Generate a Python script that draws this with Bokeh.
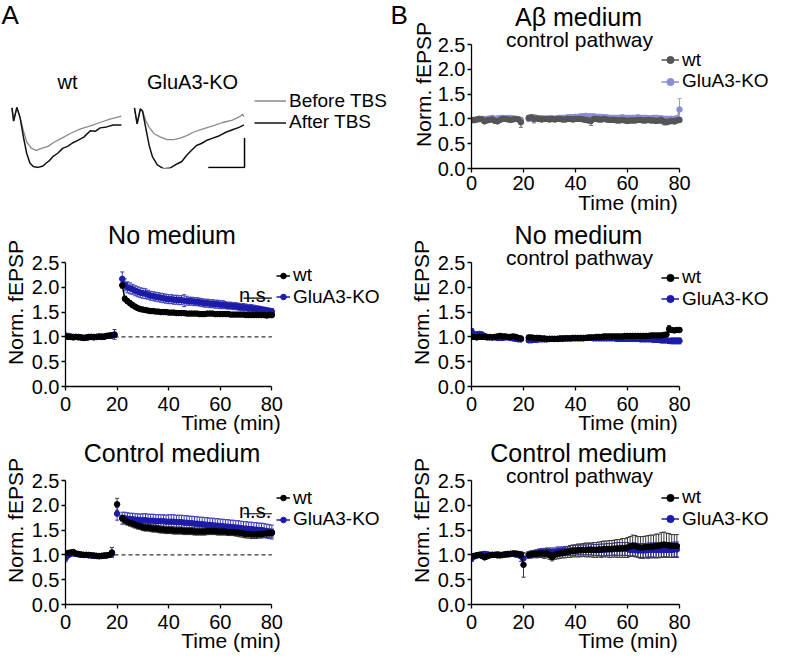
import math
from bokeh.plotting import figure
from bokeh.models import (Range1d, FixedTicker, NumeralTickFormatter, Label, Legend, LegendItem,
                          Whisker, TeeHead, ColumnDataSource)
from bokeh.layouts import column, row
from bokeh.embed import file_html
from bokeh.resources import INLINE

FONT = "Liberation Sans"

# ---------------- Panel A: example fEPSP traces (time in arbitrary ms units, mV) ----------------
WT_AFTER_T = [0, 0.17, 0.5, 0.83, 1.17, 1.5, 1.83, 2.17, 2.67, 3.17, 3.5, 3.83, 4.17, 4.67, 5.17,
              5.67, 6.17, 6.67, 7.33, 8.0, 8.5, 9.0, 9.67, 10.33, 11.17]
WT_AFTER_V = [0, -0.27, 0.01, -0.2, -0.6, -0.93, -1.13, -1.2, -1.22, -1.19, -1.13, -1.08, -1.0, -0.93, -0.83,
              -0.79, -0.72, -0.67, -0.6, -0.47, -0.48, -0.41, -0.39, -0.35, -0.35]
WT_BEFORE_T = [0, 0.17, 0.5, 0.83, 1.17, 1.5, 2.0, 2.5, 3.0, 3.67, 4.33, 5.0, 6.0, 7.0, 8.0, 9.0, 10.0, 11.17]
WT_BEFORE_V = [0, -0.27, 0.01, -0.2, -0.47, -0.7, -0.83, -0.87, -0.83, -0.79, -0.7, -0.63, -0.52, -0.43,
               -0.37, -0.3, -0.23, -0.17]
KO_AFTER_T = [0, 0.27, 0.6, 0.83, 1.17, 1.5, 1.83, 2.33, 3.0, 3.67, 4.33, 4.83, 5.33, 5.83, 6.33, 6.83,
              7.33, 8.0, 8.67, 9.33, 10.0, 10.67, 11.17]
KO_AFTER_V = [0, -0.33, -0.02, -0.07, -0.43, -0.77, -1.0, -1.17, -1.25, -1.23, -1.15, -1.1, -0.97, -0.87,
              -0.77, -0.73, -0.67, -0.62, -0.57, -0.5, -0.45, -0.4, -0.35]
KO_BEFORE_T = [0, 0.27, 0.6, 0.83, 1.17, 1.5, 2.0, 2.67, 3.33, 4.0, 4.67, 5.33, 6.0, 7.0, 8.0, 9.0, 10.0,
               10.83, 11.0, 11.17]
KO_BEFORE_V = [0, -0.33, -0.02, -0.07, -0.27, -0.4, -0.53, -0.6, -0.65, -0.65, -0.62, -0.57, -0.5, -0.43,
               -0.37, -0.3, -0.25, -0.17, -0.13, -0.18]
SCALE_MS = 3.7
SCALE_MV = 0.6

# ---------------- Time-course data (time in min, normalized fEPSP) ----------------
LM_T = list(range(0, 20)) + list(range(22, 81))
LM_WT = [1.01, 1.00, 1.00, 0.99, 1.00, 1.00, 0.99, 0.98, 0.99, 1.00, 1.00, 0.99, 1.00, 1.01, 1.00, 1.00, 1.02, 1.03, 1.03, 1.04,
         2.04, 1.77, 1.72, 1.68, 1.64, 1.61, 1.58, 1.56, 1.55, 1.54,
         1.53, 1.52, 1.52, 1.51, 1.51, 1.50, 1.50, 1.50, 1.49, 1.49,
         1.49, 1.48, 1.48, 1.48, 1.48, 1.47, 1.47, 1.47, 1.47, 1.47,
         1.46, 1.46, 1.46, 1.47, 1.47, 1.47, 1.46, 1.46, 1.46, 1.46,
         1.46, 1.46, 1.45, 1.45, 1.45, 1.45, 1.45, 1.45, 1.44, 1.44,
         1.44, 1.44, 1.44, 1.44, 1.44, 1.44, 1.43, 1.44, 1.44]
LM_WT_ERR = [0.02, 0.02, 0.02, 0.02, 0.02, 0.02, 0.02, 0.02, 0.02, 0.02, 0.02, 0.02, 0.02, 0.02, 0.02, 0.03, 0.03, 0.03, 0.04, 0.05,
             0.06, 0.05, 0.05, 0.05, 0.05, 0.04, 0.04, 0.04, 0.04, 0.04,
             0.04, 0.04, 0.04, 0.04, 0.04, 0.04, 0.04, 0.04, 0.04, 0.04,
             0.04, 0.04, 0.04, 0.04, 0.04, 0.04, 0.04, 0.04, 0.04, 0.04,
             0.04, 0.04, 0.04, 0.04, 0.04, 0.04, 0.04, 0.04, 0.04, 0.04,
             0.04, 0.04, 0.04, 0.04, 0.04, 0.04, 0.04, 0.04, 0.04, 0.04,
             0.04, 0.04, 0.04, 0.04, 0.04, 0.04, 0.04, 0.04, 0.05]
LM_KO = [1.03, 1.02, 1.01, 1.00, 1.00, 0.99, 0.99, 0.98, 0.98, 0.99, 1.00, 1.00, 1.00, 1.00, 1.01, 1.01, 1.02, 1.02, 1.03, 1.05,
         2.17, 2.05, 2.00, 1.98, 1.96, 1.93, 1.91, 1.89, 1.88, 1.87,
         1.85, 1.83, 1.82, 1.81, 1.80, 1.79, 1.78, 1.77, 1.76, 1.76,
         1.75, 1.75, 1.74, 1.74, 1.73, 1.73, 1.72, 1.72, 1.71, 1.71,
         1.70, 1.69, 1.68, 1.68, 1.67, 1.67, 1.66, 1.66, 1.65, 1.65,
         1.64, 1.63, 1.63, 1.62, 1.62, 1.61, 1.60, 1.60, 1.59, 1.58,
         1.58, 1.57, 1.56, 1.56, 1.55, 1.54, 1.53, 1.52, 1.51]
LM_KO_ERR = [0.03, 0.03, 0.03, 0.03, 0.03, 0.03, 0.03, 0.03, 0.03, 0.03, 0.03, 0.03, 0.03, 0.03, 0.03, 0.03, 0.03, 0.04, 0.05, 0.10,
             0.14, 0.12, 0.11, 0.11, 0.10, 0.10, 0.10, 0.10, 0.10, 0.10,
             0.09, 0.09, 0.09, 0.09, 0.09, 0.09, 0.09, 0.09, 0.09, 0.09,
             0.09, 0.09, 0.09, 0.09, 0.12, 0.09, 0.08, 0.08, 0.08, 0.08,
             0.08, 0.08, 0.08, 0.08, 0.08, 0.08, 0.08, 0.08, 0.08, 0.08,
             0.07, 0.07, 0.07, 0.07, 0.07, 0.07, 0.07, 0.07, 0.07, 0.07,
             0.07, 0.07, 0.07, 0.06, 0.06, 0.06, 0.06, 0.06, 0.06]

LB_T = list(range(0, 19)) + [20] + list(range(22, 81))
LB_WT = [1.03, 1.04, 1.05, 1.06, 1.03, 1.02, 1.01, 1.00, 1.00, 1.00, 0.99, 0.99, 0.98, 0.98, 0.98, 0.99, 0.99, 1.00, 1.05,
         2.02,
         1.74, 1.70, 1.67, 1.65, 1.63, 1.61, 1.59, 1.58, 1.56, 1.55,
         1.55, 1.54, 1.53, 1.53, 1.52, 1.51, 1.51, 1.50, 1.50, 1.50,
         1.49, 1.49, 1.49, 1.49, 1.48, 1.48, 1.48, 1.48, 1.47, 1.47,
         1.47, 1.47, 1.47, 1.48, 1.48, 1.48, 1.48, 1.47, 1.47, 1.47,
         1.47, 1.46, 1.46, 1.46, 1.45, 1.45, 1.44, 1.43, 1.42, 1.42,
         1.41, 1.41, 1.41, 1.42, 1.42, 1.43, 1.43, 1.44, 1.44]
LB_WT_ERR = [0.03, 0.03, 0.03, 0.03, 0.03, 0.03, 0.03, 0.03, 0.03, 0.03, 0.03, 0.03, 0.03, 0.03, 0.03, 0.03, 0.03, 0.03, 0.10,
             0.12,
             0.06, 0.06, 0.07, 0.07, 0.07, 0.07, 0.07, 0.07, 0.07, 0.07,
             0.07, 0.07, 0.07, 0.07, 0.07, 0.07, 0.07, 0.07, 0.07, 0.07,
             0.07, 0.07, 0.07, 0.07, 0.07, 0.07, 0.07, 0.07, 0.07, 0.07,
             0.07, 0.07, 0.07, 0.07, 0.07, 0.07, 0.07, 0.07, 0.07, 0.07,
             0.07, 0.07, 0.07, 0.07, 0.07, 0.08, 0.08, 0.08, 0.08, 0.08,
             0.08, 0.08, 0.08, 0.08, 0.08, 0.08, 0.08, 0.08, 0.08]
LB_KO = [0.93, 0.99, 1.02, 1.03, 1.02, 1.01, 1.00, 1.00, 1.00, 0.99, 0.99, 0.98, 0.98, 0.97, 0.98, 0.98, 0.99, 1.00, 1.02,
         1.83,
         1.74, 1.74, 1.73, 1.72, 1.72, 1.71, 1.71, 1.70, 1.70, 1.70,
         1.69, 1.69, 1.69, 1.68, 1.68, 1.68, 1.68, 1.67, 1.67, 1.67,
         1.67, 1.66, 1.66, 1.66, 1.65, 1.65, 1.64, 1.64, 1.63, 1.63,
         1.62, 1.62, 1.61, 1.61, 1.60, 1.60, 1.59, 1.59, 1.58, 1.58,
         1.57, 1.57, 1.56, 1.56, 1.55, 1.55, 1.54, 1.53, 1.53, 1.52,
         1.52, 1.51, 1.51, 1.50, 1.50, 1.49, 1.48, 1.47, 1.46]
LB_KO_ERR = [0.07, 0.03, 0.03, 0.03, 0.03, 0.03, 0.03, 0.03, 0.03, 0.03, 0.03, 0.03, 0.03, 0.03, 0.03, 0.03, 0.03, 0.03, 0.05,
             0.13,
             0.12, 0.12, 0.12, 0.12, 0.12, 0.12, 0.12, 0.12, 0.13, 0.13,
             0.13, 0.13, 0.13, 0.13, 0.13, 0.13, 0.13, 0.13, 0.14, 0.14,
             0.14, 0.14, 0.14, 0.14, 0.14, 0.14, 0.14, 0.14, 0.14, 0.14,
             0.14, 0.14, 0.14, 0.14, 0.14, 0.14, 0.14, 0.14, 0.14, 0.14,
             0.14, 0.14, 0.14, 0.14, 0.14, 0.14, 0.14, 0.14, 0.14, 0.14,
             0.14, 0.14, 0.14, 0.14, 0.14, 0.14, 0.14, 0.14, 0.14]

TR_T = list(range(0, 20)) + list(range(22, 81))
TR_WT = [0.98, 0.98, 0.99, 1.00, 0.99, 0.95, 0.97, 0.98, 0.99, 0.96, 0.95, 0.98, 1.00, 1.00, 0.99, 0.98, 0.99, 1.00, 0.99, 0.93,
         1.02, 1.03, 1.00, 1.01, 1.00, 0.99, 1.00, 1.00, 0.99, 1.00,
         0.99, 1.00, 1.00, 0.99, 0.99, 1.00, 1.00, 0.99, 1.00, 1.00,
         1.00, 0.99, 0.98, 0.97, 0.96, 1.00, 1.00, 0.99, 0.99, 1.00,
         0.99, 0.98, 0.98, 0.98, 0.97, 0.97, 0.98, 0.97, 0.96, 0.97,
         0.97, 0.97, 0.98, 0.98, 0.97, 0.97, 0.98, 0.97, 0.97, 0.96,
         0.97, 0.98, 0.95, 0.94, 0.95, 0.96, 0.95, 0.97, 0.98]
TR_WT_ERR = [0.04, 0.04, 0.04, 0.04, 0.04, 0.04, 0.04, 0.04, 0.04, 0.04, 0.04, 0.04, 0.04, 0.04, 0.04, 0.04, 0.04, 0.04, 0.04, 0.10,
             0.05, 0.05, 0.08, 0.05, 0.05, 0.05, 0.05, 0.05, 0.05, 0.05,
             0.05, 0.05, 0.05, 0.05, 0.05, 0.05, 0.05, 0.05, 0.05, 0.05,
             0.05, 0.05, 0.05, 0.05, 0.09, 0.05, 0.05, 0.05, 0.05, 0.05,
             0.05, 0.05, 0.05, 0.05, 0.05, 0.05, 0.05, 0.05, 0.05, 0.05,
             0.05, 0.05, 0.05, 0.05, 0.05, 0.05, 0.05, 0.05, 0.05, 0.05,
             0.05, 0.07, 0.07, 0.06, 0.05, 0.05, 0.05, 0.05, 0.05]
TR_KO = [0.97, 0.97, 0.98, 1.00, 1.00, 1.00, 1.00, 1.01, 1.02, 1.00, 1.01, 1.02, 1.02, 1.01, 1.02, 1.02, 1.01, 1.00, 0.99, 0.98,
         1.00, 1.01, 1.02, 1.02, 1.01, 1.01, 1.00, 1.00, 1.01, 1.01,
         1.00, 1.01, 1.02, 1.02, 1.02, 1.03, 1.03, 1.03, 1.04, 1.04,
         1.05, 1.05, 1.06, 1.05, 1.05, 1.05, 1.04, 1.04, 1.04, 1.03,
         1.03, 1.02, 1.02, 1.02, 1.02, 1.02, 1.03, 1.02, 1.02, 1.02,
         1.02, 1.02, 1.03, 1.02, 1.02, 1.02, 1.01, 1.01, 1.02, 1.02,
         1.01, 1.01, 1.00, 1.00, 1.00, 1.00, 1.00, 1.01, 1.19]
TR_KO_ERR = [0.04, 0.04, 0.04, 0.04, 0.04, 0.04, 0.04, 0.04, 0.04, 0.04, 0.04, 0.04, 0.04, 0.04, 0.04, 0.04, 0.04, 0.04, 0.04, 0.04,
             0.05, 0.05, 0.05, 0.05, 0.05, 0.05, 0.05, 0.05, 0.05, 0.05,
             0.05, 0.05, 0.05, 0.05, 0.05, 0.05, 0.05, 0.05, 0.05, 0.05,
             0.05, 0.05, 0.05, 0.05, 0.05, 0.05, 0.05, 0.05, 0.05, 0.05,
             0.05, 0.05, 0.05, 0.05, 0.05, 0.05, 0.05, 0.05, 0.05, 0.05,
             0.05, 0.05, 0.05, 0.05, 0.05, 0.05, 0.05, 0.05, 0.05, 0.05,
             0.05, 0.05, 0.05, 0.05, 0.05, 0.05, 0.05, 0.05, 0.22]

RM_T = list(range(0, 20)) + list(range(22, 81))
RM_WT = [1.00, 1.00, 0.99, 1.00, 1.00, 1.00, 0.99, 0.99, 0.99, 1.00, 1.01, 1.02, 1.01, 1.01, 1.00, 1.00, 1.01, 1.00, 0.98, 0.97,
         0.99, 0.99, 0.98, 0.98, 0.98, 0.97, 0.97, 0.96, 0.96, 0.96,
         0.96, 0.96, 0.97, 0.97, 0.97, 0.97, 0.97, 0.98, 0.98, 0.98,
         0.98, 0.98, 0.98, 0.99, 0.99, 0.99, 1.00, 1.00, 1.00, 1.01,
         1.01, 1.01, 1.01, 1.01, 1.01, 1.01, 1.01, 1.02, 1.02, 1.02,
         1.02, 1.02, 1.02, 1.02, 1.02, 1.02, 1.02, 1.03, 1.03, 1.03,
         1.03, 1.03, 1.04, 1.05, 1.16, 1.14, 1.13, 1.14, 1.14]
RM_WT_ERR = [0.04, 0.04, 0.04, 0.04, 0.04, 0.04, 0.04, 0.04, 0.04, 0.04, 0.04, 0.04, 0.04, 0.04, 0.04, 0.04, 0.04, 0.04, 0.04, 0.04,
             0.04, 0.04, 0.04, 0.04, 0.04, 0.04, 0.04, 0.04, 0.04, 0.04,
             0.04, 0.04, 0.04, 0.04, 0.04, 0.04, 0.04, 0.04, 0.04, 0.04,
             0.04, 0.04, 0.04, 0.04, 0.04, 0.04, 0.04, 0.04, 0.04, 0.04,
             0.04, 0.04, 0.04, 0.04, 0.04, 0.04, 0.04, 0.04, 0.04, 0.04,
             0.04, 0.04, 0.04, 0.04, 0.04, 0.04, 0.04, 0.04, 0.04, 0.04,
             0.04, 0.04, 0.04, 0.04, 0.07, 0.04, 0.04, 0.04, 0.04]
RM_KO = [1.12, 1.05, 1.05, 1.06, 1.05, 1.02, 1.00, 1.00, 0.99, 0.99, 0.98, 0.98, 0.98, 0.99, 0.99, 0.98, 0.97, 0.96, 0.95, 0.95,
         0.93, 0.93, 0.94, 0.94, 0.95, 0.95, 0.95, 0.95, 0.96, 0.96,
         0.96, 0.96, 0.96, 0.96, 0.97, 0.97, 0.97, 0.97, 0.97, 0.97,
         0.97, 0.97, 0.98, 0.98, 0.98, 0.97, 0.97, 0.97, 0.97, 0.97,
         0.97, 0.97, 0.97, 0.97, 0.96, 0.96, 0.96, 0.96, 0.96, 0.96,
         0.96, 0.96, 0.96, 0.95, 0.95, 0.95, 0.95, 0.95, 0.94, 0.94,
         0.94, 0.93, 0.93, 0.93, 0.92, 0.92, 0.92, 0.92, 0.92]
RM_KO_ERR = [0.05, 0.05, 0.04, 0.04, 0.04, 0.04, 0.04, 0.04, 0.04, 0.04, 0.04, 0.04, 0.04, 0.04, 0.04, 0.04, 0.04, 0.04, 0.04, 0.04,
             0.04, 0.04, 0.04, 0.04, 0.04, 0.04, 0.04, 0.04, 0.04, 0.04,
             0.04, 0.04, 0.04, 0.04, 0.04, 0.04, 0.04, 0.04, 0.04, 0.04,
             0.04, 0.04, 0.04, 0.04, 0.04, 0.04, 0.04, 0.04, 0.04, 0.04,
             0.04, 0.04, 0.04, 0.04, 0.04, 0.04, 0.04, 0.04, 0.04, 0.04,
             0.04, 0.04, 0.04, 0.04, 0.04, 0.04, 0.04, 0.04, 0.04, 0.05,
             0.05, 0.05, 0.05, 0.05, 0.05, 0.06, 0.06, 0.06, 0.06]

RB_T = list(range(0, 21)) + list(range(22, 80))
RB_WT = [0.97, 0.98, 0.99, 1.00, 0.98, 0.95, 0.97, 0.99, 1.00, 1.00, 0.99, 0.99, 1.00, 1.01, 1.02, 1.02, 1.03, 1.03, 1.02, 1.00, 0.80,
         1.00, 1.01, 1.02, 1.02, 1.03, 1.03, 1.02, 1.03, 1.00, 0.96,
         1.00, 1.02, 1.03, 1.04, 1.05, 1.06, 1.07, 1.08, 1.08, 1.09,
         1.09, 1.10, 1.10, 1.10, 1.10, 1.10, 1.10, 1.11, 1.11, 1.12,
         1.12, 1.12, 1.12, 1.13, 1.13, 1.13, 1.14, 1.14, 1.15, 1.17,
         1.19, 1.18, 1.16, 1.15, 1.15, 1.16, 1.16, 1.17, 1.17, 1.18,
         1.18, 1.20, 1.21, 1.20, 1.19, 1.18, 1.18, 1.18]
RB_WT_ERR = [0.04, 0.04, 0.04, 0.04, 0.04, 0.04, 0.04, 0.04, 0.04, 0.04, 0.04, 0.04, 0.04, 0.04, 0.04, 0.04, 0.04, 0.04, 0.04, 0.04, 0.25,
             0.06, 0.07, 0.07, 0.08, 0.08, 0.08, 0.09, 0.09, 0.09, 0.08,
             0.09, 0.10, 0.10, 0.10, 0.11, 0.11, 0.12, 0.12, 0.12, 0.13,
             0.13, 0.13, 0.14, 0.14, 0.14, 0.15, 0.15, 0.15, 0.16, 0.16,
             0.16, 0.17, 0.17, 0.17, 0.18, 0.18, 0.19, 0.19, 0.20, 0.20,
             0.21, 0.21, 0.21, 0.22, 0.22, 0.22, 0.23, 0.23, 0.23, 0.24,
             0.24, 0.25, 0.25, 0.24, 0.24, 0.23, 0.23, 0.23]
RB_KO = [0.92, 0.97, 0.99, 1.00, 1.01, 1.02, 1.01, 1.00, 1.00, 1.00, 1.01, 1.00, 1.00, 1.01, 1.01, 1.02, 1.02, 1.01, 1.00, 0.97, 0.93,
         1.00, 1.01, 1.02, 1.03, 1.04, 1.05, 1.05, 1.06, 1.06, 1.06,
         1.06, 1.07, 1.07, 1.07, 1.08, 1.08, 1.09, 1.09, 1.10, 1.10,
         1.10, 1.10, 1.10, 1.11, 1.11, 1.10, 1.10, 1.10, 1.10, 1.10,
         1.11, 1.11, 1.11, 1.12, 1.12, 1.12, 1.12, 1.12, 1.12, 1.10,
         1.10, 1.10, 1.09, 1.09, 1.09, 1.09, 1.10, 1.10, 1.10, 1.10,
         1.10, 1.10, 1.10, 1.10, 1.10, 1.10, 1.11, 1.11]
RB_KO_ERR = [0.05, 0.05, 0.05, 0.05, 0.05, 0.05, 0.05, 0.05, 0.05, 0.05, 0.05, 0.05, 0.05, 0.05, 0.05, 0.05, 0.05, 0.05, 0.05, 0.10, 0.10,
             0.07, 0.07, 0.07, 0.07, 0.08, 0.08, 0.08, 0.08, 0.08, 0.08,
             0.08, 0.09, 0.09, 0.09, 0.09, 0.09, 0.10, 0.10, 0.10, 0.10,
             0.10, 0.10, 0.10, 0.11, 0.11, 0.11, 0.11, 0.11, 0.12, 0.12,
             0.12, 0.12, 0.12, 0.12, 0.13, 0.13, 0.13, 0.13, 0.13, 0.13,
             0.13, 0.14, 0.14, 0.14, 0.14, 0.14, 0.14, 0.14, 0.14, 0.15,
             0.15, 0.15, 0.15, 0.15, 0.15, 0.15, 0.15, 0.15]

X_TICKS = [0, 20, 40, 60, 80]
Y_TICKS = [0.0, 0.5, 1.0, 1.5, 2.0, 2.5]
BASELINE = 1.0
NS_X = [69, 80]

BLUE = "#1c1ca8"
BLUE_E = "#3a3ab8"
BLACK = "#000000"
BLACK_E = "#3a3a3a"
DGRAY = "#555555"
DGRAY_E = "#6a6a6a"
LPURP = "#8c8cd2"
LPURP_E = "#9d9ddc"

ROW_H = 218
DATA_H = 124          # pixel height of the 0..2.5 part of each frame
BOT_B = 50
FRAME_H = ROW_H - BOT_B
LEG_FONT = "19px"
ITEM_H = 23           # rendered height of one legend entry
ITEM_STEP = 21.6      # distance between legend entries


def noclip(m):
    if "clip" in m.properties():
        m.clip = False
    return m


def add_legend(p, items, x, first_center_from_top, area_h, glyph_w):
    # one single-entry legend per item so that the entry spacing can be set exactly
    for i, item in enumerate(items):
        c = first_center_from_top - 1 + i * ITEM_STEP
        y = area_h - (c - ITEM_H / 2) - ITEM_H
        leg = Legend(items=[item], location=(x, y), orientation="vertical",
                     label_text_font=FONT, label_text_font_size=LEG_FONT, label_text_color="black",
                     glyph_width=glyph_w, glyph_height=ITEM_H, label_height=ITEM_H, spacing=0,
                     padding=0, margin=0, label_standoff=3,
                     background_fill_alpha=0, border_line_alpha=0)
        p.add_layout(noclip(leg))


def with_breaks(t, y):
    xs, ys = [], []
    for i, (a, b) in enumerate(zip(t, y)):
        if i and a - t[i - 1] > 1:
            xs.append(float("nan"))
            ys.append(float("nan"))
        xs.append(a)
        ys.append(b)
    return xs, ys


def add_series(p, t, y, e, color, ecolor):
    src = ColumnDataSource(dict(t=t, up=[a + b for a, b in zip(y, e)], lo=[a - b for a, b in zip(y, e)]))
    w = Whisker(source=src, base="t", upper="up", lower="lo", line_color=ecolor, line_width=1,
                upper_head=TeeHead(size=4, line_color=ecolor, line_width=1),
                lower_head=TeeHead(size=4, line_color=ecolor, line_width=1))
    p.add_layout(w)
    xs, ys = with_breaks(t, y)
    lr = p.line(xs, ys, line_color=color, line_width=1.5)
    sr = p.scatter(t, y, size=5.5, marker="circle", fill_color=color, line_color=color)
    return lr, sr


def panel(width, left, frame_w, t, wt, wt_e, ko, ko_e, title, subtitle, cols, leg_x, leg_c,
          glyph_w, dashed=False, ns=None, ylab_standoff=2, xtick_standoff=3, xlab_standoff=-2):
    x_end = X_TICKS[-1] * (width - left) / frame_w
    y_end = Y_TICKS[-1] * FRAME_H / DATA_H
    p = figure(width=width, height=ROW_H, x_range=Range1d(X_TICKS[0], x_end), y_range=Range1d(Y_TICKS[0], y_end),
               output_backend="svg", toolbar_location=None,
               min_border_left=left, min_border_right=0, min_border_top=0, min_border_bottom=BOT_B)
    p.outline_line_color = None
    p.xgrid.visible = False
    p.ygrid.visible = False
    p.background_fill_color = "white"
    p.border_fill_color = "white"
    for ax in (p.xaxis[0], p.yaxis[0]):
        ax.axis_line_width = 1.3
        ax.axis_line_color = "black"
        ax.major_tick_line_width = 1.3
        ax.major_tick_line_color = "black"
        ax.major_tick_in = 0
        ax.major_tick_out = 4
        ax.minor_tick_line_color = None
        ax.major_label_text_font = FONT
        ax.major_label_text_font_size = "20px"
        ax.major_label_text_color = "black"
        ax.axis_label_text_font = FONT
        ax.axis_label_text_font_size = "21px"
        ax.axis_label_text_font_style = "normal"
        ax.axis_label_text_color = "black"
    p.xaxis.ticker = FixedTicker(ticks=X_TICKS)
    p.yaxis.ticker = FixedTicker(ticks=Y_TICKS)
    p.xaxis.bounds = (X_TICKS[0], X_TICKS[-1])
    p.yaxis.bounds = (Y_TICKS[0], Y_TICKS[-1])
    p.yaxis.formatter = NumeralTickFormatter(format="0.0")
    p.xaxis.axis_label = "Time (min)"
    p.yaxis.axis_label = "Norm. fEPSP"
    p.xaxis.major_label_standoff = xtick_standoff
    p.xaxis.axis_label_standoff = xlab_standoff
    p.yaxis.major_label_standoff = 2
    p.yaxis.axis_label_standoff = ylab_standoff

    if dashed:
        p.line([X_TICKS[0], X_TICKS[-1]], [BASELINE, BASELINE], line_color="black", line_width=1,
               line_dash="4 3")

    wt_c, wt_ec, ko_c, ko_ec = cols
    lk, sk = add_series(p, t, ko, ko_e, ko_c, ko_ec)
    lw, sw = add_series(p, t, wt, wt_e, wt_c, wt_ec)

    add_legend(p, [LegendItem(label="wt", renderers=[lw, sw]),
                   LegendItem(label="GluA3-KO", renderers=[lk, sk])],
               leg_x, leg_c, DATA_H, glyph_w)

    p.add_layout(noclip(Label(x=frame_w / 2 + 3, y=DATA_H + 28, x_units="screen", y_units="screen",
                              text=title, text_align="center", text_baseline="middle",
                              text_font=FONT, text_font_size="25px", text_color="black")))
    if subtitle:
        p.add_layout(noclip(Label(x=frame_w / 2 + 4, y=DATA_H + 5, x_units="screen", y_units="screen",
                                  text=subtitle, text_align="center", text_baseline="middle",
                                  text_font=FONT, text_font_size="21px", text_color="black")))
    if ns is not None:
        p.add_layout(noclip(Label(x=(NS_X[0] + NS_X[1]) / 2 - 1, y=ns + 0.06, text="n.s.", text_align="center",
                                  text_baseline="alphabetic", text_font=FONT, text_font_size="20px",
                                  text_color="black")))
        p.line(NS_X, [ns, ns], line_color="black", line_width=1.2)
    return p


TOP_LEFT_W, TOP_RIGHT_W = 408, 376
LEFT_W, RIGHT_W = 396, 388
L_LEFT, L_FW = 64, 207
R_LEFT, R_FW = 75, 208
TR_LEFT = 63

# ---------------- Panel A traces figure ----------------
PX_MS, PX_MV = 9.8, 48.8
x0 = -1.17
ytop = 2.2
pa = figure(width=TOP_LEFT_W, height=ROW_H, x_range=Range1d(x0, x0 + TOP_LEFT_W / PX_MS),
            y_range=Range1d(ytop - FRAME_H / PX_MV, ytop), output_backend="svg", toolbar_location=None,
            x_axis_type=None, y_axis_type=None,
            min_border_left=0, min_border_right=0, min_border_top=0, min_border_bottom=BOT_B)
pa.outline_line_color = None
pa.xgrid.visible = False
pa.ygrid.visible = False
KO_SHIFT = 12.5
GRAY = "#8a8a8a"
r_wb = pa.line(WT_BEFORE_T, WT_BEFORE_V, line_color=GRAY, line_width=1.3)
r_wa = pa.line(WT_AFTER_T, WT_AFTER_V, line_color="#111111", line_width=1.5)
pa.line([v + KO_SHIFT for v in KO_BEFORE_T], KO_BEFORE_V, line_color=GRAY, line_width=1.3)
pa.line([v + KO_SHIFT for v in KO_AFTER_T], KO_AFTER_V, line_color="#111111", line_width=1.5)
cx, cy = 23.73, -1.22
pa.line([cx - SCALE_MS, cx, cx], [cy, cy, cy + SCALE_MV], line_color="black", line_width=1.5)
add_legend(pa, [LegendItem(label="Before TBS", renderers=[r_wb]),
                LegendItem(label="After TBS", renderers=[r_wa])],
           254, 101.5, FRAME_H, 32)
pa.add_layout(noclip(Label(x=67, y=FRAME_H - 81, x_units="screen", y_units="screen", text="wt",
                           text_align="center", text_baseline="middle", text_font=FONT, text_font_size="20px",
                           text_color="black")))
pa.add_layout(noclip(Label(x=192, y=FRAME_H - 81, x_units="screen", y_units="screen", text="GluA3-KO",
                           text_align="center", text_baseline="middle", text_font=FONT, text_font_size="20px",
                           text_color="black")))
pa.add_layout(noclip(Label(x=1, y=FRAME_H - 14, x_units="screen", y_units="screen", text="A",
                           text_align="left", text_baseline="middle", text_font=FONT, text_font_size="26px",
                           text_color="black")))
pa.add_layout(noclip(Label(x=390, y=FRAME_H - 14, x_units="screen", y_units="screen", text="B",
                           text_align="left", text_baseline="middle", text_font=FONT, text_font_size="26px",
                           text_color="black")))

# ---------------- Panels ----------------
p_tr = panel(TOP_RIGHT_W, TR_LEFT, R_FW, TR_T, TR_WT, TR_WT_ERR, TR_KO, TR_KO_ERR,
             "A\u03b2 medium", "control pathway", (DGRAY, DGRAY_E, LPURP, LPURP_E),
             leg_x=190, leg_c=16.5, glyph_w=18, ylab_standoff=0)

p_lm = panel(LEFT_W, L_LEFT, L_FW, LM_T, LM_WT, LM_WT_ERR, LM_KO, LM_KO_ERR,
             "No medium", None, (BLACK, BLACK_E, BLUE, BLUE_E),
             leg_x=211, leg_c=14, glyph_w=14, dashed=True, ns=1.78, xtick_standoff=6, xlab_standoff=-3)
p_rm = panel(RIGHT_W, R_LEFT, R_FW, RM_T, RM_WT, RM_WT_ERR, RM_KO, RM_KO_ERR,
             "No medium", "control pathway", (BLACK, BLACK_E, BLUE, BLUE_E),
             leg_x=190, leg_c=16, glyph_w=18, xtick_standoff=6, xlab_standoff=-3)
p_lb = panel(LEFT_W, L_LEFT, L_FW, LB_T, LB_WT, LB_WT_ERR, LB_KO, LB_KO_ERR,
             "Control medium", None, (BLACK, BLACK_E, BLUE, BLUE_E),
             leg_x=211, leg_c=18.5, glyph_w=14, dashed=True, ns=1.83, xtick_standoff=6, xlab_standoff=-3)
p_rb = panel(RIGHT_W, R_LEFT, R_FW, RB_T, RB_WT, RB_WT_ERR, RB_KO, RB_KO_ERR,
             "Control medium", "control pathway", (BLACK, BLACK_E, BLUE, BLUE_E),
             leg_x=190, leg_c=18, glyph_w=18, xtick_standoff=6, xlab_standoff=-3)

layout = column(row(pa, p_tr), row(p_lm, p_rm), row(p_lb, p_rb))
open("out.html", "w").write(file_html(layout, INLINE))
